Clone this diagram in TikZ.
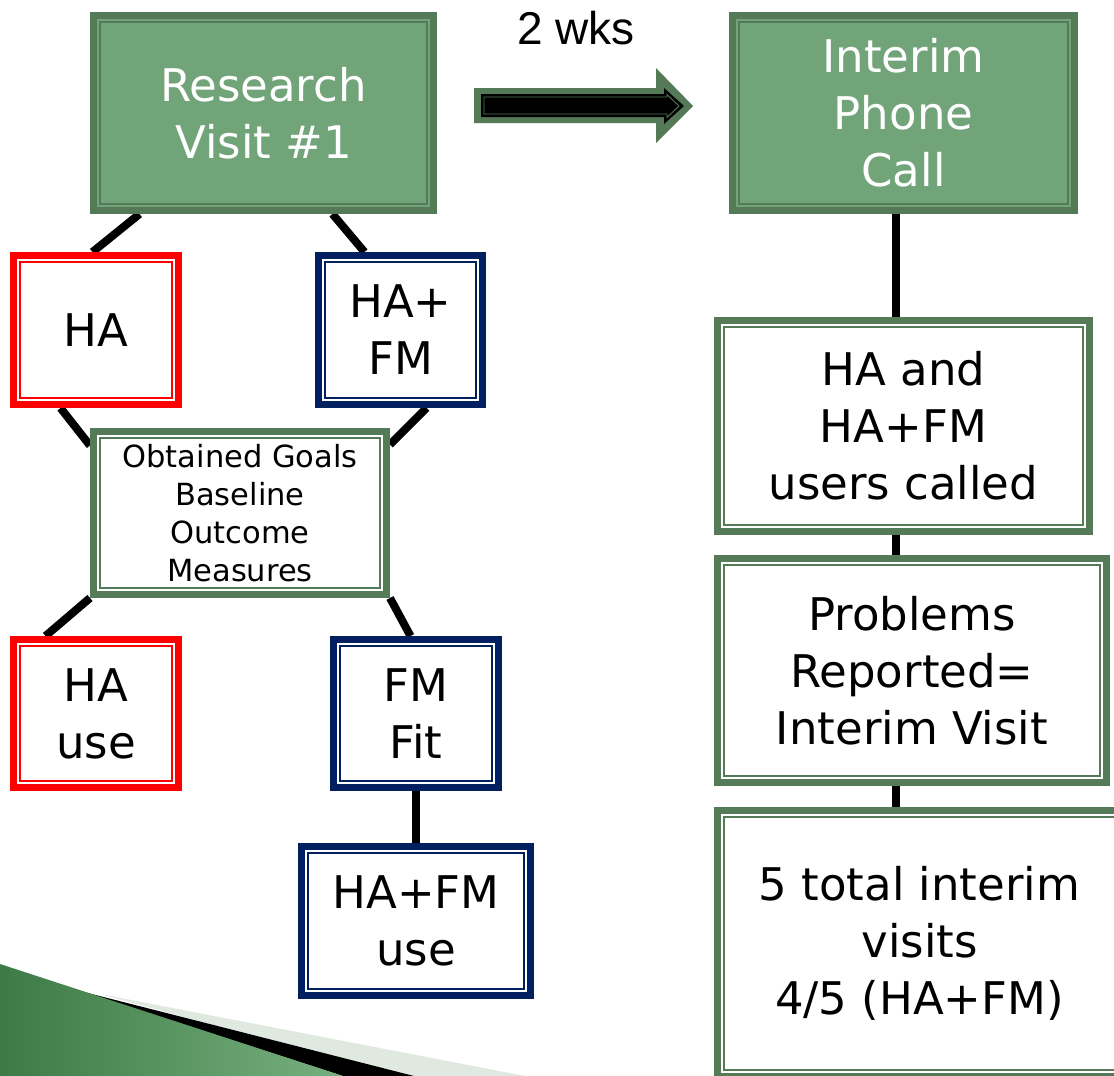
\documentclass[tikz,border=0pt]{standalone}
\usepackage{fontspec}
\setmainfont{DejaVu Sans}
\newfontfamily\arialf{Liberation Sans}
\usetikzlibrary{calc}
\pgfdeclarelayer{bg}
\pgfsetlayers{bg,main}
\definecolor{dgreen}{HTML}{547A58}
\definecolor{mgreen}{HTML}{72A47A}
\definecolor{navyb}{HTML}{002060}
\definecolor{palegr}{HTML}{DFE9DF}
\definecolor{decodark}{HTML}{3D7A45}
\definecolor{decolight}{HTML}{76B07F}
\newcommand\bigf{\fontsize{45}{57}\selectfont}
\newcommand\smallf{\fontsize{30.5}{38}\selectfont}
\tikzset{
  bxframe/.style={rectangle, draw=#1, line width=7pt, inner sep=0pt, align=center,
    path picture={\draw[#1, line width=1.4pt]
      ($(path picture bounding box.south west)+(6.5pt,6.5pt)$) rectangle
      ($(path picture bounding box.north east)+(-6.5pt,-6.5pt)$);}},
  greenbox/.style={bxframe=dgreen, fill=mgreen, text=white, font=\bigf},
  gwhite/.style={bxframe=dgreen, fill=white, text=black, font=\bigf},
  redbox/.style={bxframe=red, fill=white, text=black, font=\bigf},
  bluebox/.style={bxframe=navyb, fill=white, text=black, font=\bigf},
  conn/.style={line width=8pt, black}
}
\begin{document}
\begin{tikzpicture}[x=1pt,y=-1pt]
\begin{pgfonlayer}{bg}
\fill[white] (0,0) rectangle (1114,1076);
\end{pgfonlayer}
\useasboundingbox (0,0) rectangle (1114,1076);
\clip (0,0) rectangle (1114,1076);

% bottom-left decoration
\fill[palegr] (100,994) -- (525,1076) -- (400,1076) -- cycle;
\fill[black] (80,991) -- (414,1076) -- (343,1076) -- cycle;
\shade[left color=decodark, right color=decolight] (0,964) -- (343,1076) -- (0,1076) -- cycle;

% arrow
\fill[dgreen] (474,88) -- (656,88) -- (656,68) -- (693,106) -- (656,143) -- (656,123) -- (474,123) -- cycle;
\fill[black] (481,94) -- (664,94) -- (664,88) -- (684,106) -- (664,124) -- (664,117) -- (481,117) -- cycle;
\draw[dgreen, line width=0.9pt] (484,97) -- (667,97) -- (667,94.5) -- (679,106) -- (667,117.5) -- (667,114) -- (484,114) -- cycle;
\node[font=\arialf\fontsize{46}{50}\selectfont, inner sep=0pt] (wks) at (576,28) {2 wks};

% boxes
\node[greenbox, minimum width=340pt, minimum height=195pt] (rv) at (263.5,113) {Research\\Visit \#1};
\node[greenbox, minimum width=342pt, minimum height=195pt] (ipc) at (903.5,113) {Interim\\Phone\\Call};
\node[redbox, minimum width=165pt, minimum height=149pt] (ha) at (96,330) {HA};
\node[bluebox, minimum width=164pt, minimum height=149pt] (hafm) at (400.5,330) {HA+\\FM};
\node[gwhite, font=\smallf, minimum width=293pt, minimum height=163pt] (og) at (240,513) {Obtained Goals\\Baseline\\Outcome\\Measures};
\node[redbox, minimum width=165pt, minimum height=148pt] (hause) at (96,713.5) {HA\\use};
\node[bluebox, minimum width=165pt, minimum height=148pt] (fmfit) at (416,713.5) {FM\\Fit};
\node[bluebox, minimum width=229pt, minimum height=149pt] (hafmuse) at (416,921) {HA+FM\\use};
\node[gwhite, minimum width=372pt, minimum height=211pt] (called) at (903.5,426) {HA and\\HA+FM\\users called};
\node[gwhite, minimum width=389pt, minimum height=224pt] (prob) at (912,670.5) {Problems\\Reported=\\Interim Visit};
\node[gwhite, minimum width=404pt, minimum height=266pt] (total) at (919.5,943.5) {5 total interim\\visits\\4/5 (HA+FM)};

% connectors
\begin{pgfonlayer}{bg}
\draw[conn] ($(rv.south west)+(49.5,0)$) -- ($(ha.north west)+(82.5,0)$);
\draw[conn] ($(rv.south west)+(242.5,0)$) -- ($(hafm.north west)+(49.5,0)$);
\draw[conn] ($(ha.south west)+(50.5,0)$) -- ($(og.north west)+(0,17.5)$);
\draw[conn] ($(hafm.south west)+(111.5,0)$) -- ($(og.north east)+(0,16.5)$);
\draw[conn] (og.south west) -- ($(hause.north west)+(35.5,0)$);
\draw[conn] (og.south east) -- ($(fmfit.north west)+(80.5,0)$);
\draw[conn] (fmfit.south) -- (hafmuse.north);
\draw[conn] ($(ipc.south)+(-7.5,0)$) -- ($(called.north)+(-7.5,0)$);
\draw[conn] ($(called.south)+(-7.5,0)$) -- ($(prob.south west)+(182,-224)$);
\draw[conn] ($(prob.south west)+(182,0)$) -- ($(total.north west)+(182,0)$);
\end{pgfonlayer}
\end{tikzpicture}
\end{document}
